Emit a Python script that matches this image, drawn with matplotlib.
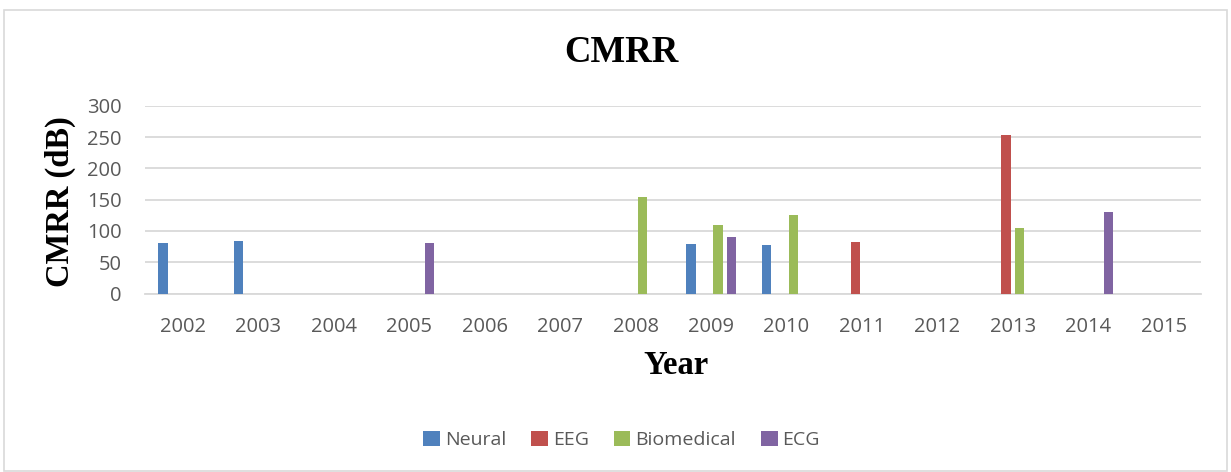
import numpy as np
import matplotlib.pyplot as plt
from matplotlib.patches import Rectangle

years = ['2002', '2003', '2004', '2005', '2006', '2007', '2008',
         '2009', '2010', '2011', '2012', '2013', '2014', '2015']
series_names = ['Neural', 'EEG', 'Biomedical', 'ECG']
# 0 means no bar for that year
neural = [81, 84, 0, 0, 0, 0, 0, 78.5, 77.5, 0, 0, 0, 0, 0]
eeg = [0, 0, 0, 0, 0, 0, 0, 0, 0, 82, 0, 252.5, 0, 0]
biomedical = [0, 0, 0, 0, 0, 0, 155, 109.5, 125, 0, 0, 105, 0, 0]
ecg = [0, 0, 0, 81, 0, 0, 0, 90, 0, 0, 0, 0, 130.5, 0]
colors = ['#4F81BD', '#C0504D', '#9BBB59', '#8064A2']

GRID = '#D9D9D9'
TEXT = '#595959'
TICK_FONT = 'Open Sans'


def main():
    fig = plt.figure(figsize=(12.31, 4.72), dpi=100)
    ax = fig.add_axes([0.118, 0.378, 0.858, 0.398])

    x = np.arange(len(years))
    spacing = 0.178
    width = 0.125
    for i, (name, vals, c) in enumerate(zip(series_names, [neural, eeg, biomedical, ecg], colors)):
        ax.bar(x + (i - 1.5) * spacing, vals, width, color=c, label=name, zorder=3)

    ax.set_xlim(-0.5, len(years) - 0.5)
    ax.set_ylim(0, 300)
    ax.set_yticks(np.arange(0, 301, 50))
    ax.set_xticks(x)
    ax.set_xticklabels(years)
    ax.grid(axis='y', color=GRID, linewidth=1.3, zorder=0)
    for s in ['top', 'right', 'left']:
        ax.spines[s].set_visible(False)
    ax.spines['bottom'].set_color(GRID)
    ax.spines['bottom'].set_linewidth(1.3)
    ax.tick_params(length=0, labelsize=14.5, labelcolor=TEXT)
    for lbl in ax.get_xticklabels() + ax.get_yticklabels():
        lbl.set_family(TICK_FONT)
    ax.tick_params(axis='y', pad=17)
    ax.tick_params(axis='x', pad=17)

    fig.text(0.505, 0.889, 'CMRR', ha='center', va='center',
             family='Liberation Serif', weight='bold', fontsize=26.5)
    fig.text(0.049, 0.572, 'CMRR (dB)', ha='center', va='center', rotation=90,
             family='Liberation Serif', weight='bold', fontsize=23.5)
    fig.text(0.549, 0.225, 'Year', ha='center', va='center',
             family='Liberation Serif', weight='bold', fontsize=23.5)

    leg = fig.legend(loc='center', bbox_to_anchor=(0.505, 0.068), ncol=4, frameon=False,
                     handlelength=0.85, handleheight=0.85, handletextpad=0.25, columnspacing=1.3,
                     prop={'family': TICK_FONT, 'size': 14})
    for t in leg.get_texts():
        t.set_color(TEXT)

    # light border round the chart like the original
    fig.patches.append(Rectangle((0.003, 0.003), 0.994, 0.975, transform=fig.transFigure,
                                 fill=False, edgecolor=GRID, linewidth=1.2))

    fig.savefig('out.png', dpi=100)


if __name__ == '__main__':
    main()
